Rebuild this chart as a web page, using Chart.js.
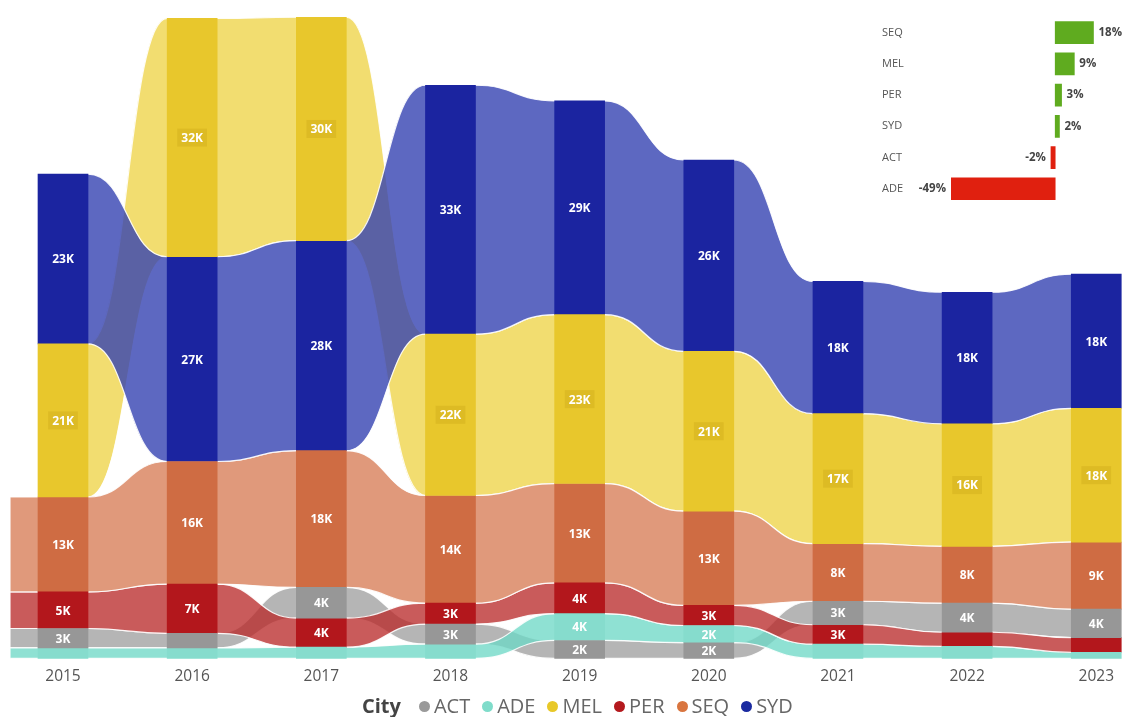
<!DOCTYPE html>
<html>
<head>
<meta charset="utf-8">
<script src="https://cdn.jsdelivr.net/npm/chart.js@4.4.1/dist/chart.umd.min.js"></script>
<style>
  html, body { margin: 0; padding: 0; background: #fff; }
  body { width: 1123px; height: 717px; position: relative; overflow: hidden; font-family: "Open Sans", sans-serif; }
  #ribbonChart { position: absolute; left: 0; top: 0; }
  #changeChart { position: absolute; left: 878px; top: 0; z-index: 2; }
  #legend { position: absolute; left: 362px; top: 692px; display: flex; align-items: center; font-size: 20px; line-height: 28px; color: #666; white-space: nowrap; }
  #legend .title { font-weight: bold; color: #444; margin-right: 18px; }
  #legend .item { display: flex; align-items: center; margin-right: 12px; }
  #legend .dot { width: 11px; height: 11px; border-radius: 50%; margin-right: 4px; }
</style>
</head>
<body>
<canvas id="ribbonChart" width="1123" height="717"></canvas>
<canvas id="changeChart" width="245" height="211"></canvas>
<div id="legend"></div>
<script>
// yearly totals per city, in thousands
const years = ['2015', '2016', '2017', '2018', '2019', '2020', '2021', '2022', '2023'];
const cities = ['ACT', 'ADE', 'MEL', 'PER', 'SEQ', 'SYD'];
const act = [2.6, 1.95, 4.1, 2.7, 2.4, 2.1, 3.15, 3.9, 3.82];
const ade = [1.4, 1.4, 1.5, 1.9, 3.6, 2.3, 1.9, 1.6, 0.82];
const mel = [20.5, 31.9, 29.9, 21.6, 22.6, 21.4, 17.4, 16.4, 17.9];
const per = [4.9, 6.6, 3.9, 2.8, 4.1, 2.7, 2.6, 1.9, 1.96];
const seq = [12.7, 16.4, 18.3, 14.4, 13.3, 12.6, 7.7, 7.6, 8.97];
const syd = [22.7, 27.4, 28.1, 33.3, 28.6, 25.6, 17.7, 17.6, 17.95];

// change vs previous year (%)
const changeCities = ['SEQ', 'MEL', 'PER', 'SYD', 'ACT', 'ADE'];
const changePct = [18, 9, 3, 2, -2, -49];

// cities whose ribbon runs in from the left edge
const leadIn = ['ACT', 'ADE', 'PER', 'SEQ'];

const values = { ACT: act, ADE: ade, MEL: mel, PER: per, SEQ: seq, SYD: syd };

const barColors = {
  ACT: '#979797', ADE: '#86dccd', MEL: '#e8c72c',
  PER: '#b3171c', SEQ: '#cf6c43', SYD: '#1b24a0'
};
const ribbonColors = {
  ACT: 'rgba(160,160,160,0.78)', ADE: 'rgba(111,217,199,0.78)', MEL: 'rgba(239,213,76,0.8)',
  PER: 'rgba(186,45,45,0.78)', SEQ: 'rgba(216,128,90,0.8)', SYD: 'rgba(52,66,178,0.8)'
};
const legendColors = {
  ACT: '#9a9a9a', ADE: '#7fdcca', MEL: '#e8c828', PER: '#b4191e', SEQ: '#d9753f', SYD: '#1a2aa0'
};

// stack each year with the largest city on top
const ranges = {};
cities.forEach(c => ranges[c] = []);
years.forEach((y, i) => {
  const order = cities.slice().sort((a, b) => values[a][i] - values[b][i]);
  let base = 0;
  order.forEach(c => {
    ranges[c][i] = [base, base + values[c][i]];
    base += values[c][i];
  });
});

const BAR_W = 50;
const MIN_LABEL = 2;

const ribbonPlugin = {
  id: 'ribbons',
  beforeDatasetsDraw(chart) {
    const { ctx, scales: { x, y } } = chart;
    const half = BAR_W / 2;
    ctx.save();
    ctx.lineWidth = 1.2;
    ctx.strokeStyle = 'rgba(255,255,255,0.9)';
    cities.forEach(c => {
      const r = ranges[c];
      ctx.fillStyle = ribbonColors[c];
      if (leadIn.includes(c)) {
        const cx = x.getPixelForValue(0);
        const t = y.getPixelForValue(r[0][1]), b = y.getPixelForValue(r[0][0]);
        ctx.beginPath();
        ctx.rect(cx - half - 28, t, half + 28, b - t);
        ctx.fill();
        ctx.stroke();
      }
      for (let i = 0; i < years.length - 1; i++) {
        const c1 = x.getPixelForValue(i), c2 = x.getPixelForValue(i + 1);
        const e1 = c1 + half, e2 = c2 - half, xm = (e1 + e2) / 2;
        const t1 = y.getPixelForValue(r[i][1]), b1 = y.getPixelForValue(r[i][0]);
        const t2 = y.getPixelForValue(r[i + 1][1]), b2 = y.getPixelForValue(r[i + 1][0]);
        ctx.beginPath();
        ctx.moveTo(c1, t1);
        ctx.lineTo(e1, t1);
        ctx.bezierCurveTo(xm, t1, xm, t2, e2, t2);
        ctx.lineTo(c2, t2);
        ctx.lineTo(c2, b2);
        ctx.lineTo(e2, b2);
        ctx.bezierCurveTo(xm, b2, xm, b1, e1, b1);
        ctx.lineTo(c1, b1);
        ctx.closePath();
        ctx.fill();
        ctx.stroke();
      }
    });
    ctx.restore();
  }
};

const valueLabels = {
  id: 'valueLabels',
  afterDatasetsDraw(chart) {
    const { ctx } = chart;
    ctx.save();
    ctx.font = 'bold 12px "Open Sans"';
    ctx.textAlign = 'center';
    ctx.textBaseline = 'middle';
    chart.data.datasets.forEach((ds, di) => {
      const c = cities[di];
      chart.getDatasetMeta(di).data.forEach((bar, i) => {
        const v = values[c][i];
        if (v < MIN_LABEL) return;
        const cy = (bar.y + bar.base) / 2;
        const txt = Math.round(v) + 'K';
        if (c === 'MEL') {
          const w = ctx.measureText(txt).width + 8;
          ctx.fillStyle = 'rgba(196,160,20,0.3)';
          ctx.fillRect(bar.x - w / 2, cy - 9, w, 18);
        }
        ctx.fillStyle = '#fff';
        ctx.fillText(txt, bar.x, cy + 1);
      });
    });
    ctx.restore();
  }
};

new Chart(document.getElementById('ribbonChart'), {
  type: 'bar',
  data: {
    labels: years,
    datasets: cities.map(c => ({
      label: c,
      data: ranges[c],
      backgroundColor: barColors[c],
      borderWidth: 0,
      grouped: false,
      barThickness: BAR_W,
      clip: false
    }))
  },
  options: {
    responsive: false,
    animation: false,
    layout: { padding: { left: 63, right: 23, top: 18, bottom: 22 } },
    plugins: { legend: { display: false }, tooltip: { enabled: false } },
    scales: {
      x: {
        offset: false,
        grid: { display: false, drawTicks: false },
        border: { display: false },
        ticks: { color: '#555', font: { family: 'Open Sans', size: 15.5 }, padding: 9 }
      },
      y: { display: false, min: 0, max: 85.7 }
    }
  },
  plugins: [ribbonPlugin, valueLabels]
});

const pctLabels = {
  id: 'pctLabels',
  afterDatasetsDraw(chart) {
    const { ctx } = chart;
    ctx.save();
    ctx.font = 'bold 11.5px "Open Sans"';
    ctx.fillStyle = '#444';
    ctx.textBaseline = 'middle';
    chart.getDatasetMeta(0).data.forEach((bar, i) => {
      const v = changePct[i];
      if (v >= 0) {
        ctx.textAlign = 'left';
        ctx.fillText(v + '%', bar.x + 5, bar.y);
      } else {
        ctx.textAlign = 'right';
        ctx.fillText(v + '%', bar.x - 5, bar.y);
      }
    });
    ctx.restore();
  }
};

new Chart(document.getElementById('changeChart'), {
  type: 'bar',
  data: {
    labels: changeCities,
    datasets: [{
      data: changePct,
      backgroundColor: changePct.map(v => v >= 0 ? '#5fab1f' : '#e0200f'),
      borderWidth: 0,
      barThickness: 22
    }]
  },
  options: {
    indexAxis: 'y',
    responsive: false,
    animation: false,
    layout: { padding: { left: 4, right: 4, top: 17, bottom: 0 } },
    plugins: { legend: { display: false }, tooltip: { enabled: false } },
    scales: {
      x: { display: false, min: -49, max: 30 },
      y: {
        grid: { display: false, drawTicks: false },
        border: { display: false },
        ticks: { crossAlign: 'far', color: '#555', font: { family: 'Open Sans', size: 11 }, padding: 0 },
        afterFit(axis) { axis.width = 69; }
      }
    }
  },
  plugins: [pctLabels]
});

// legend: "City" followed by a dot per city
const legend = document.getElementById('legend');
legend.innerHTML = '<span class="title">City</span>' + cities.map(c =>
  '<span class="item"><span class="dot" style="background:' + legendColors[c] + '"></span>' + c + '</span>'
).join('');
</script>
</body>
</html>
